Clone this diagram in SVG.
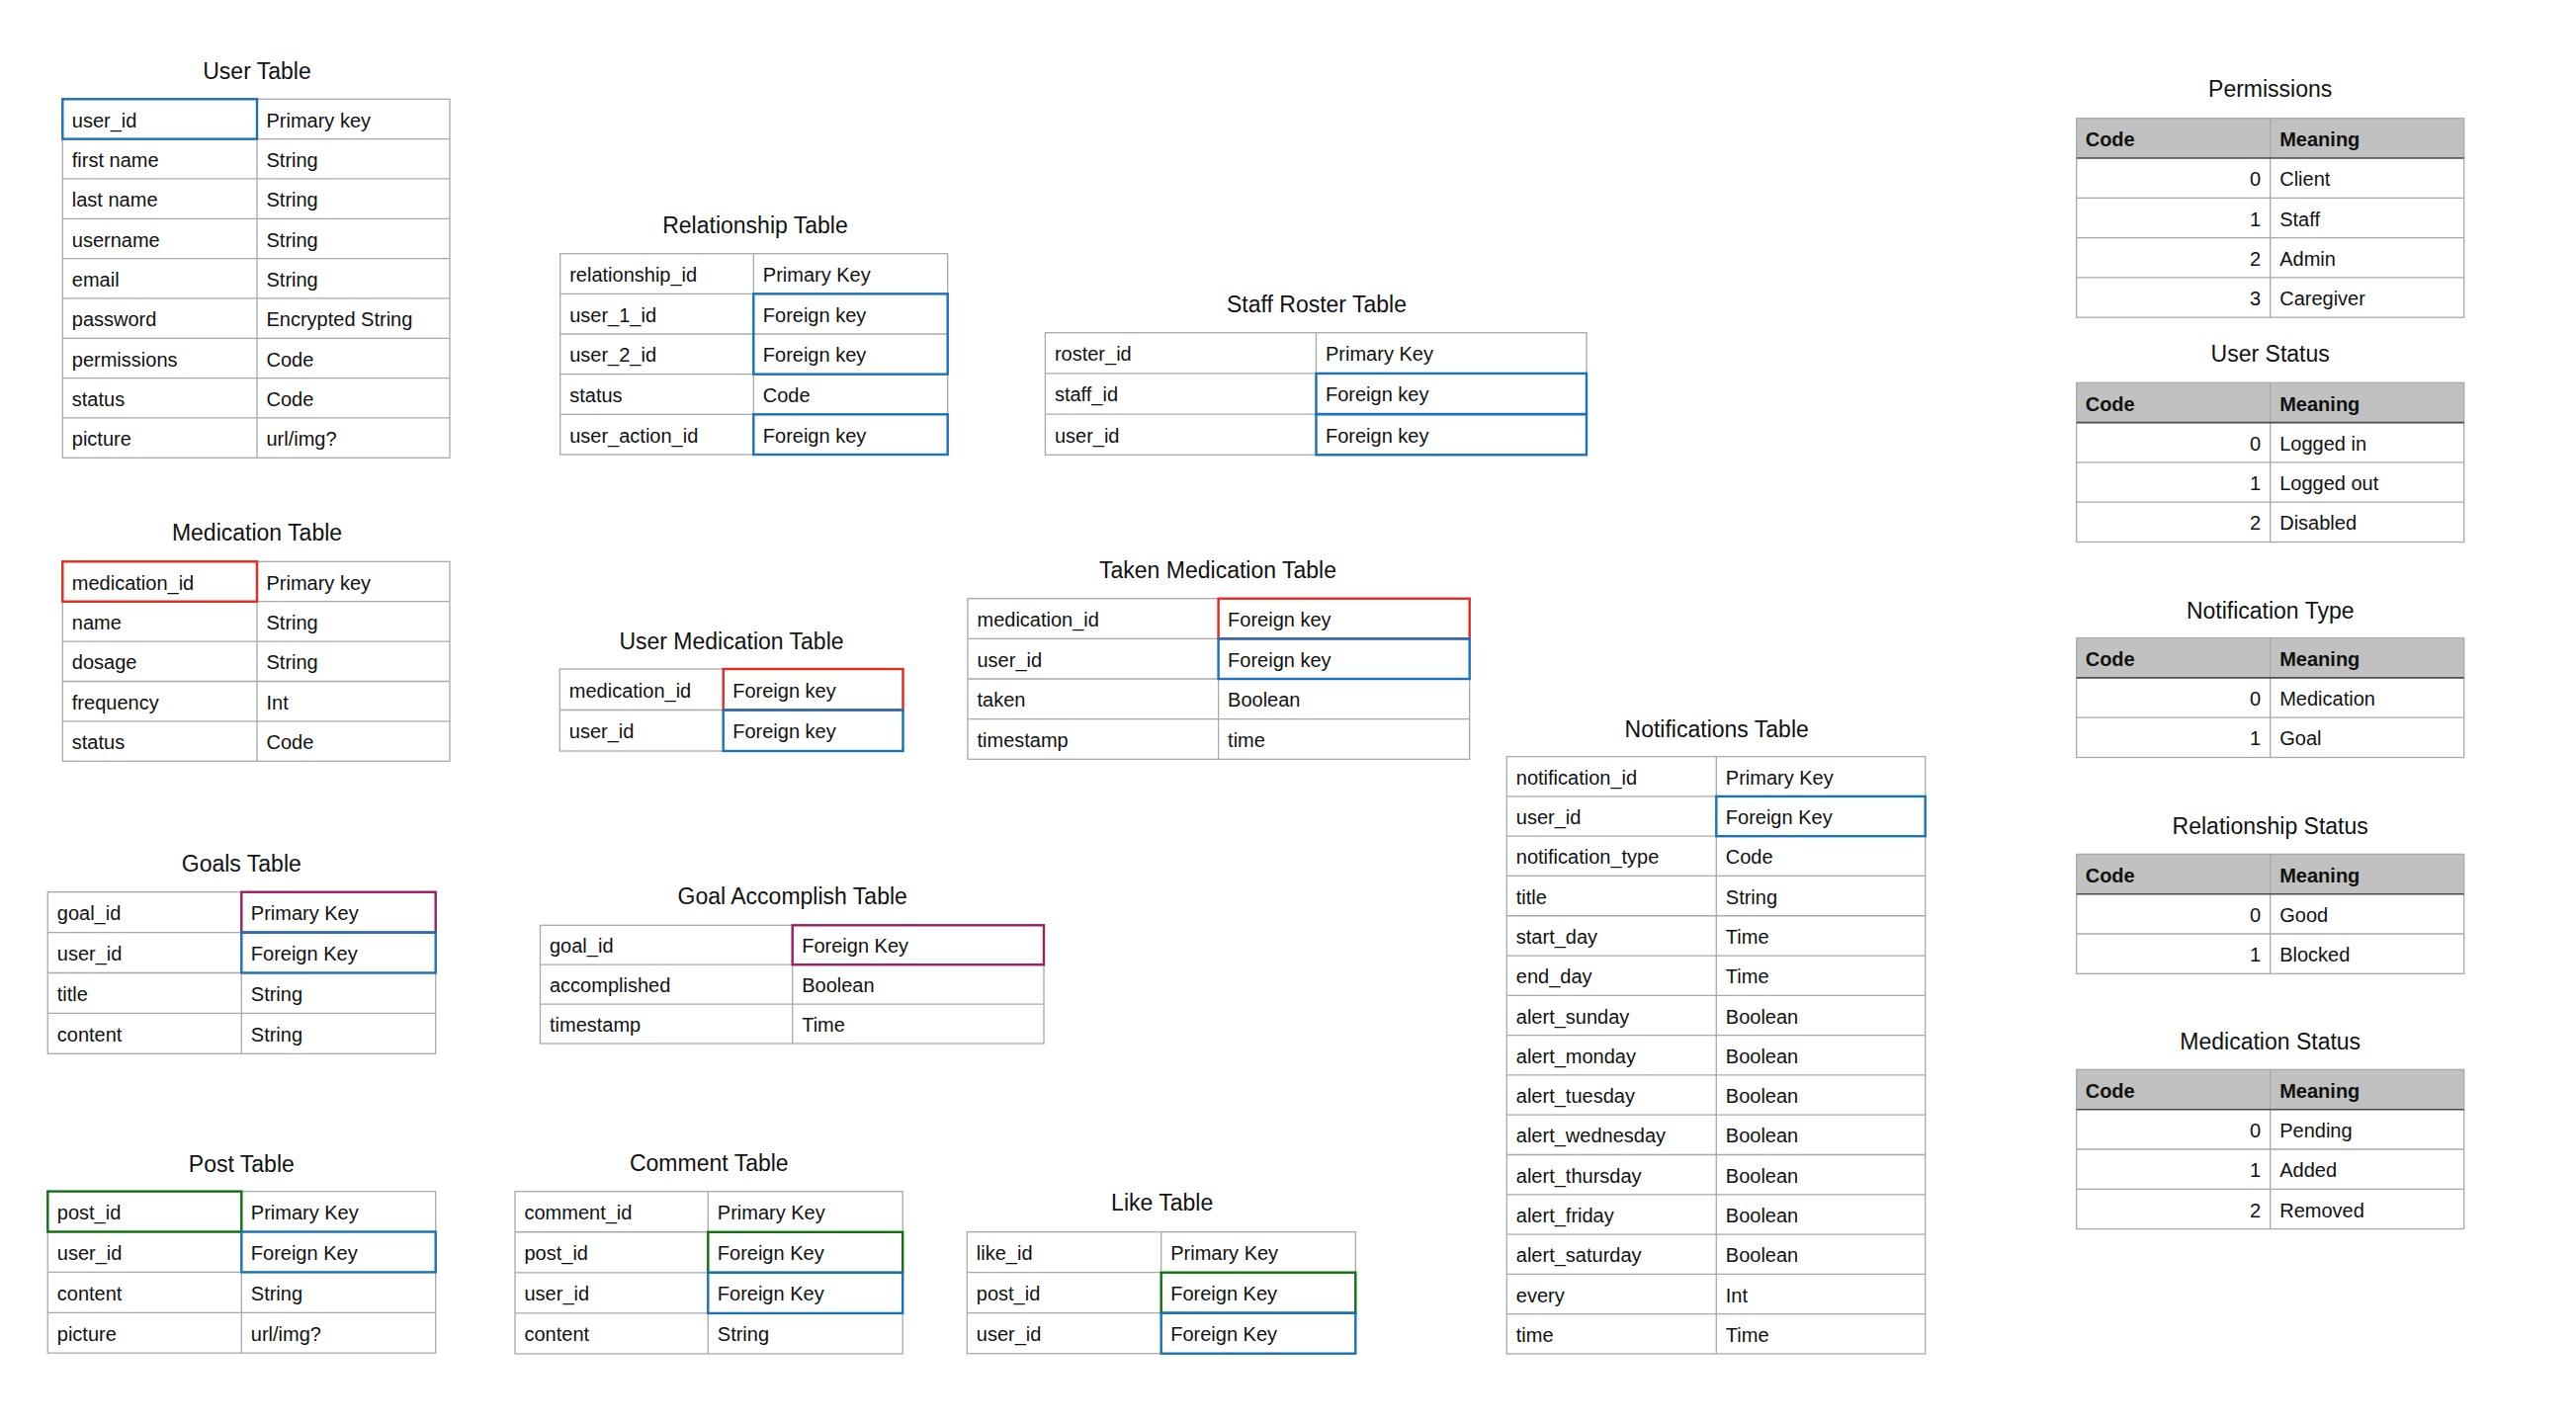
<svg xmlns="http://www.w3.org/2000/svg" width="2606" height="1440" viewBox="0 0 2606 1440">
<style>
text{font-family:"Liberation Sans",Arial,Helvetica,sans-serif;fill:#111}
.t{font-size:23px;text-anchor:middle}
.c{font-size:20px}
.b{font-weight:bold}
.n{text-anchor:end}
.g{fill:none;stroke:#A9A9A9;stroke-width:1.3}
.hd{fill:#C0C1C0;stroke:none}
.dk{fill:none;stroke:#4A4A4A;stroke-width:1.6}
.blue{fill:none;stroke:#1A72B8;stroke-width:2.4}
.red{fill:none;stroke:#E62B1E;stroke-width:2.4}
.pur{fill:none;stroke:#9E1E62;stroke-width:2.4}
.grn{fill:none;stroke:#0E730E;stroke-width:2.4}
</style>
<rect width="2606" height="1440" fill="#fff"/>
<g id="connectors"></g>

<g id="user-table">
<text class="t" x="260" y="80">User Table</text>
<g transform="translate(63.3,100.3)">
<rect class="g" width="391.7" height="363"/>
<path class="g" d="M0 40.33H391.7M0 80.67H391.7M0 121H391.7M0 161.33H391.7M0 201.67H391.7M0 242H391.7M0 282.33H391.7M0 322.67H391.7M196.7 0V363"/>
<g class="c">
<text x="9.5" y="28.3">user_id</text><text x="206.2" y="28.3">Primary key</text>
<text x="9.5" y="68.6">first name</text><text x="206.2" y="68.6">String</text>
<text x="9.5" y="109">last name</text><text x="206.2" y="109">String</text>
<text x="9.5" y="149.3">username</text><text x="206.2" y="149.3">String</text>
<text x="9.5" y="189.6">email</text><text x="206.2" y="189.6">String</text>
<text x="9.5" y="230">password</text><text x="206.2" y="230">Encrypted String</text>
<text x="9.5" y="270.3">permissions</text><text x="206.2" y="270.3">Code</text>
<text x="9.5" y="310.6">status</text><text x="206.2" y="310.6">Code</text>
<text x="9.5" y="351">picture</text><text x="206.2" y="351">url/img?</text>
</g>
<rect class="blue" width="196.7" height="40.33"/>
</g>
</g>

<g id="medication-table">
<text class="t" x="260" y="546.7">Medication Table</text>
<g transform="translate(63.3,568.3)">
<rect class="g" width="391.7" height="202"/>
<path class="g" d="M0 40.4H391.7M0 80.8H391.7M0 121.2H391.7M0 161.6H391.7M196.7 0V202"/>
<g class="c">
<text x="9.5" y="28.3">medication_id</text><text x="206.2" y="28.3">Primary key</text>
<text x="9.5" y="68.7">name</text><text x="206.2" y="68.7">String</text>
<text x="9.5" y="109.1">dosage</text><text x="206.2" y="109.1">String</text>
<text x="9.5" y="149.5">frequency</text><text x="206.2" y="149.5">Int</text>
<text x="9.5" y="189.9">status</text><text x="206.2" y="189.9">Code</text>
</g>
<rect class="red" width="196.7" height="40.4"/>
</g>
</g>

<g id="goals-table">
<text class="t" x="244.3" y="882">Goals Table</text>
<g transform="translate(48.3,902.7)">
<rect class="g" width="392.4" height="163.6"/>
<path class="g" d="M0 40.9H392.4M0 81.8H392.4M0 122.7H392.4M196 0V163.6"/>
<g class="c">
<text x="9.5" y="28.5">goal_id</text><text x="205.5" y="28.5">Primary Key</text>
<text x="9.5" y="69.4">user_id</text><text x="205.5" y="69.4">Foreign Key</text>
<text x="9.5" y="110.3">title</text><text x="205.5" y="110.3">String</text>
<text x="9.5" y="151.2">content</text><text x="205.5" y="151.2">String</text>
</g>
<rect class="pur" x="196" width="196.4" height="40.9"/>
<rect class="blue" x="196" y="40.9" width="196.4" height="40.9"/>
</g>
</g>

<g id="post-table">
<text class="t" x="244.3" y="1185.7">Post Table</text>
<g transform="translate(48.3,1205.6)">
<rect class="g" width="392.4" height="163.6"/>
<path class="g" d="M0 40.9H392.4M0 81.8H392.4M0 122.7H392.4M196 0V163.6"/>
<g class="c">
<text x="9.5" y="28.5">post_id</text><text x="205.5" y="28.5">Primary Key</text>
<text x="9.5" y="69.4">user_id</text><text x="205.5" y="69.4">Foreign Key</text>
<text x="9.5" y="110.3">content</text><text x="205.5" y="110.3">String</text>
<text x="9.5" y="151.2">picture</text><text x="205.5" y="151.2">url/img?</text>
</g>
<rect class="grn" width="196" height="40.9"/>
<rect class="blue" x="196" y="40.9" width="196.4" height="40.9"/>
</g>
</g>

<g id="relationship-table">
<text class="t" x="764" y="235.7">Relationship Table</text>
<g transform="translate(566.7,256.7)">
<rect class="g" width="392" height="203.3"/>
<path class="g" d="M0 40.66H392M0 81.3H392M0 122H392M0 162.6H392M195.6 0V203.3"/>
<g class="c">
<text x="9.5" y="28.3">relationship_id</text><text x="205.1" y="28.3">Primary Key</text>
<text x="9.5" y="69">user_1_id</text><text x="205.1" y="69">Foreign key</text>
<text x="9.5" y="109.6">user_2_id</text><text x="205.1" y="109.6">Foreign key</text>
<text x="9.5" y="150.3">status</text><text x="205.1" y="150.3">Code</text>
<text x="9.5" y="190.9">user_action_id</text><text x="205.1" y="190.9">Foreign key</text>
</g>
<rect class="blue" x="195.6" y="40.66" width="196.4" height="81.3"/>
<rect class="blue" x="195.6" y="162.6" width="196.4" height="40.7"/>
</g>
</g>

<g id="user-medication-table">
<text class="t" x="740" y="656.7">User Medication Table</text>
<g transform="translate(566.3,677)">
<rect class="g" width="347.2" height="83"/>
<path class="g" d="M0 41.5H347.2M165.4 0V83"/>
<g class="c">
<text x="9.5" y="28.8">medication_id</text><text x="174.9" y="28.8">Foreign key</text>
<text x="9.5" y="70.3">user_id</text><text x="174.9" y="70.3">Foreign key</text>
</g>
<rect class="red" x="165.4" width="181.8" height="41.5"/>
<rect class="blue" x="165.4" y="41.5" width="181.8" height="41.5"/>
</g>
</g>

<g id="goal-accomplish-table">
<text class="t" x="801.7" y="915">Goal Accomplish Table</text>
<g transform="translate(546.5,936.3)">
<rect class="g" width="509.5" height="119.7"/>
<path class="g" d="M0 39.9H509.5M0 79.8H509.5M255.2 0V119.7"/>
<g class="c">
<text x="9.5" y="27.8">goal_id</text><text x="264.7" y="27.8">Foreign Key</text>
<text x="9.5" y="67.7">accomplished</text><text x="264.7" y="67.7">Boolean</text>
<text x="9.5" y="107.6">timestamp</text><text x="264.7" y="107.6">Time</text>
</g>
<rect class="pur" x="255.2" width="254.3" height="39.9"/>
</g>
</g>

<g id="comment-table">
<text class="t" x="717.3" y="1185">Comment Table</text>
<g transform="translate(521,1205.7)">
<rect class="g" width="392.2" height="164.3"/>
<path class="g" d="M0 41.07H392.2M0 82.15H392.2M0 123.2H392.2M195.3 0V164.3"/>
<g class="c">
<text x="9.5" y="28.6">comment_id</text><text x="204.8" y="28.6">Primary Key</text>
<text x="9.5" y="69.6">post_id</text><text x="204.8" y="69.6">Foreign Key</text>
<text x="9.5" y="110.7">user_id</text><text x="204.8" y="110.7">Foreign Key</text>
<text x="9.5" y="151.8">content</text><text x="204.8" y="151.8">String</text>
</g>
<rect class="grn" x="195.3" y="41.07" width="196.9" height="41.07"/>
<rect class="blue" x="195.3" y="82.15" width="196.9" height="41.07"/>
</g>
</g>

<g id="staff-roster-table">
<text class="t" x="1332" y="316">Staff Roster Table</text>
<g transform="translate(1057.4,336.7)">
<rect class="g" width="547.6" height="123.6"/>
<path class="g" d="M0 41.2H547.6M0 82.4H547.6M274.1 0V123.6"/>
<g class="c">
<text x="9.5" y="28.5">roster_id</text><text x="283.6" y="28.5">Primary Key</text>
<text x="9.5" y="69.7">staff_id</text><text x="283.6" y="69.7">Foreign key</text>
<text x="9.5" y="110.9">user_id</text><text x="283.6" y="110.9">Foreign key</text>
</g>
<rect class="blue" x="274.1" y="41.2" width="273.5" height="41.2"/>
<rect class="blue" x="274.1" y="82.4" width="273.5" height="41.2"/>
</g>
</g>

<g id="taken-medication-table">
<text class="t" x="1232" y="585">Taken Medication Table</text>
<g transform="translate(979,605.7)">
<rect class="g" width="507.7" height="162.6"/>
<path class="g" d="M0 40.65H507.7M0 81.3H507.7M0 121.95H507.7M253.6 0V162.6"/>
<g class="c">
<text x="9.5" y="28.3">medication_id</text><text x="263.1" y="28.3">Foreign key</text>
<text x="9.5" y="69">user_id</text><text x="263.1" y="69">Foreign key</text>
<text x="9.5" y="109.6">taken</text><text x="263.1" y="109.6">Boolean</text>
<text x="9.5" y="150.3">timestamp</text><text x="263.1" y="150.3">time</text>
</g>
<rect class="red" x="253.6" width="254.1" height="40.65"/>
<rect class="blue" x="253.6" y="40.65" width="254.1" height="40.65"/>
</g>
</g>

<g id="like-table">
<text class="t" x="1175.7" y="1225">Like Table</text>
<g transform="translate(978.3,1246.7)">
<rect class="g" width="393" height="123"/>
<path class="g" d="M0 41H393M0 82H393M196.4 0V123"/>
<g class="c">
<text x="9.5" y="28.5">like_id</text><text x="205.9" y="28.5">Primary Key</text>
<text x="9.5" y="69.5">post_id</text><text x="205.9" y="69.5">Foreign Key</text>
<text x="9.5" y="110.5">user_id</text><text x="205.9" y="110.5">Foreign Key</text>
</g>
<rect class="grn" x="196.4" y="41" width="196.6" height="41"/>
<rect class="blue" x="196.4" y="82" width="196.6" height="41"/>
</g>
</g>

<g id="notifications-table">
<text class="t" x="1736.7" y="746.3">Notifications Table</text>
<g transform="translate(1524.3,765.6)">
<rect class="g" width="423.4" height="604.4"/>
<path class="g" d="M0 40.29H423.4M0 80.58H423.4M0 120.87H423.4M0 161.16H423.4M0 201.45H423.4M0 241.74H423.4M0 282.03H423.4M0 322.32H423.4M0 362.61H423.4M0 402.9H423.4M0 443.19H423.4M0 483.48H423.4M0 523.77H423.4M0 564.06H423.4M212 0V604.4"/>
<g class="c">
<text x="9.5" y="28.3">notification_id</text><text x="221.5" y="28.3">Primary Key</text>
<text x="9.5" y="68.6">user_id</text><text x="221.5" y="68.6">Foreign Key</text>
<text x="9.5" y="108.9">notification_type</text><text x="221.5" y="108.9">Code</text>
<text x="9.5" y="149.2">title</text><text x="221.5" y="149.2">String</text>
<text x="9.5" y="189.5">start_day</text><text x="221.5" y="189.5">Time</text>
<text x="9.5" y="229.8">end_day</text><text x="221.5" y="229.8">Time</text>
<text x="9.5" y="270">alert_sunday</text><text x="221.5" y="270">Boolean</text>
<text x="9.5" y="310.3">alert_monday</text><text x="221.5" y="310.3">Boolean</text>
<text x="9.5" y="350.6">alert_tuesday</text><text x="221.5" y="350.6">Boolean</text>
<text x="9.5" y="390.9">alert_wednesday</text><text x="221.5" y="390.9">Boolean</text>
<text x="9.5" y="431.2">alert_thursday</text><text x="221.5" y="431.2">Boolean</text>
<text x="9.5" y="471.5">alert_friday</text><text x="221.5" y="471.5">Boolean</text>
<text x="9.5" y="511.8">alert_saturday</text><text x="221.5" y="511.8">Boolean</text>
<text x="9.5" y="552.1">every</text><text x="221.5" y="552.1">Int</text>
<text x="9.5" y="592.4">time</text><text x="221.5" y="592.4">Time</text>
</g>
<rect class="blue" x="212" y="40.29" width="211.4" height="40.29"/>
</g>
</g>

<g id="permissions">
<text class="t" x="2296.7" y="98.3">Permissions</text>
<g transform="translate(2100.7,119.7)">
<rect class="hd" width="392" height="40.3"/>
<rect class="g" width="392" height="201.5"/>
<path class="g" d="M0 80.6H392M0 120.9H392M0 161.2H392M196 0V201.5"/>
<path class="dk" d="M0 40.3H392"/>
<g class="c">
<text class="b" x="9" y="28.3">Code</text><text class="b" x="205.5" y="28.3">Meaning</text>
<text class="n" x="186.5" y="68.6">0</text><text x="205.5" y="68.6">Client</text>
<text class="n" x="186.5" y="108.9">1</text><text x="205.5" y="108.9">Staff</text>
<text class="n" x="186.5" y="149.2">2</text><text x="205.5" y="149.2">Admin</text>
<text class="n" x="186.5" y="189.5">3</text><text x="205.5" y="189.5">Caregiver</text>
</g>
</g>
</g>

<g id="user-status">
<text class="t" x="2296.7" y="366">User Status</text>
<g transform="translate(2100.7,387.3)">
<rect class="hd" width="392" height="40.3"/>
<rect class="g" width="392" height="161.2"/>
<path class="g" d="M0 80.6H392M0 120.9H392M196 0V161.2"/>
<path class="dk" d="M0 40.3H392"/>
<g class="c">
<text class="b" x="9" y="28.3">Code</text><text class="b" x="205.5" y="28.3">Meaning</text>
<text class="n" x="186.5" y="68.6">0</text><text x="205.5" y="68.6">Logged in</text>
<text class="n" x="186.5" y="108.9">1</text><text x="205.5" y="108.9">Logged out</text>
<text class="n" x="186.5" y="149.2">2</text><text x="205.5" y="149.2">Disabled</text>
</g>
</g>
</g>

<g id="notification-type">
<text class="t" x="2296.7" y="625.8">Notification Type</text>
<g transform="translate(2100.7,645.6)">
<rect class="hd" width="392" height="40.3"/>
<rect class="g" width="392" height="120.9"/>
<path class="g" d="M0 80.6H392M196 0V120.9"/>
<path class="dk" d="M0 40.3H392"/>
<g class="c">
<text class="b" x="9" y="28.3">Code</text><text class="b" x="205.5" y="28.3">Meaning</text>
<text class="n" x="186.5" y="68.6">0</text><text x="205.5" y="68.6">Medication</text>
<text class="n" x="186.5" y="108.9">1</text><text x="205.5" y="108.9">Goal</text>
</g>
</g>
</g>

<g id="relationship-status">
<text class="t" x="2296.7" y="843.8">Relationship Status</text>
<g transform="translate(2100.7,864.4)">
<rect class="hd" width="392" height="40.3"/>
<rect class="g" width="392" height="120.9"/>
<path class="g" d="M0 80.6H392M196 0V120.9"/>
<path class="dk" d="M0 40.3H392"/>
<g class="c">
<text class="b" x="9" y="28.3">Code</text><text class="b" x="205.5" y="28.3">Meaning</text>
<text class="n" x="186.5" y="68.6">0</text><text x="205.5" y="68.6">Good</text>
<text class="n" x="186.5" y="108.9">1</text><text x="205.5" y="108.9">Blocked</text>
</g>
</g>
</g>

<g id="medication-status">
<text class="t" x="2296.7" y="1062.2">Medication Status</text>
<g transform="translate(2100.7,1082.4)">
<rect class="hd" width="392" height="40.3"/>
<rect class="g" width="392" height="161.2"/>
<path class="g" d="M0 80.6H392M0 120.9H392M196 0V161.2"/>
<path class="dk" d="M0 40.3H392"/>
<g class="c">
<text class="b" x="9" y="28.3">Code</text><text class="b" x="205.5" y="28.3">Meaning</text>
<text class="n" x="186.5" y="68.6">0</text><text x="205.5" y="68.6">Pending</text>
<text class="n" x="186.5" y="108.9">1</text><text x="205.5" y="108.9">Added</text>
<text class="n" x="186.5" y="149.2">2</text><text x="205.5" y="149.2">Removed</text>
</g>
</g>
</g>
</svg>
